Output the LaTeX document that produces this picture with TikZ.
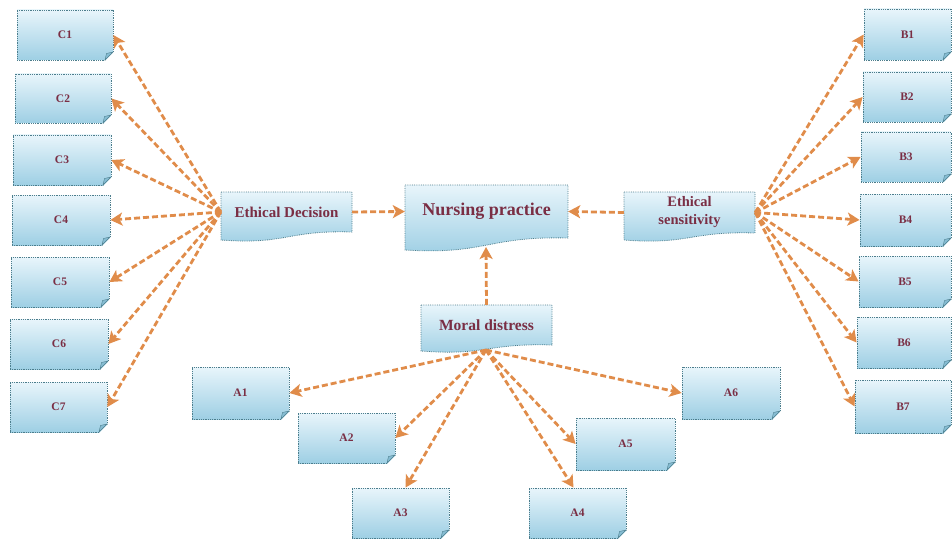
\documentclass[tikz,border=0pt]{standalone}
\usepackage{fontspec}
\setmainfont{Liberation Serif}
\usetikzlibrary{arrows.meta,calc}
\definecolor{boxtop}{HTML}{E8F5FB}
\definecolor{boxbot}{HTML}{9ECFE4}
\definecolor{boxline}{HTML}{4C7D8C}
\definecolor{foldcol}{HTML}{86BDD3}
\definecolor{labcol}{HTML}{7A2E44}
\definecolor{arrcol}{HTML}{E08C4A}
\tikzset{
  smallbox/.style={rectangle, top color=boxtop, bottom color=boxbot, draw=boxline,
    line width=0.8pt, densely dotted, text=labcol, inner sep=0pt,
    font=\bfseries\fontsize{11.5}{13}\selectfont},
  docshape/.style={top color=boxtop, bottom color=boxbot, draw=boxline,
    line width=0.8pt, densely dotted},
  doctext/.style={rectangle, inner sep=0pt, text=labcol, align=center},
  foldstyle/.style={fill=foldcol, draw=boxline, line width=0.4pt},
  conn/.style={draw=arrcol, line width=2.8pt, dash pattern=on 6pt off 3pt,
    -{Stealth[length=12pt,width=13pt,inset=3pt]}}
}
% name, x1, y1, x2, y2, text
\newcommand\smallboxnode[6]{%
  \node[smallbox, minimum width=#4pt-#2pt, minimum height=#5pt-#3pt] (#1)
    at ({(#2+#4)/2},{(#3+#5)/2}) {#6};
  \fill[white] (#4+1,#5-8) -- (#4+1,#5+1) -- (#4-8,#5+1) -- cycle;
  \path[foldstyle] (#4,#5-8) -- (#4-8,#5) -- (#4-6.5,#5-6.5) -- cycle;
}
% name, x1, y1, x2, ybottomleft, ybottomright, font, text
\newcommand\docnode[8]{%
  \path[docshape] (#2,#3) -- (#4,#3) -- (#4,#6)
    .. controls ({(#2+#4)/2},#6-2) and ({(#2+#4)/2},#5+5) .. (#2,#5) -- cycle;
  \node[doctext, font=#7, minimum width=#4pt-#2pt, minimum height=#6pt-#3pt] (#1)
    at ({(#2+#4)/2},{(#3+#6)/2}) {#8};
}
\begin{document}
\begin{tikzpicture}[x=1pt,y=-1pt]
\useasboundingbox (0,0) rectangle (952,540);

% left column C
\smallboxnode{c1}{17}{10}{113}{60}{C1}
\smallboxnode{c2}{15}{74}{111}{123}{C2}
\smallboxnode{c3}{13}{135}{111}{185}{C3}
\smallboxnode{c4}{12}{195}{110}{245}{C4}
\smallboxnode{c5}{11}{257}{109}{307}{C5}
\smallboxnode{c6}{10}{319}{108}{369}{C6}
\smallboxnode{c7}{10}{382}{107}{432}{C7}

% right column B
\smallboxnode{b1}{864}{9}{951}{60}{B1}
\smallboxnode{b2}{863}{72}{951}{122}{B2}
\smallboxnode{b3}{861}{132}{951}{182}{B3}
\smallboxnode{b4}{860}{194}{951}{246}{B4}
\smallboxnode{b5}{859}{256}{951}{307}{B5}
\smallboxnode{b6}{857}{317}{951}{368}{B6}
\smallboxnode{b7}{855}{380}{951}{433}{B7}

% bottom A
\smallboxnode{a1}{192}{367}{289}{419}{A1}
\smallboxnode{a2}{298}{413}{395}{463}{A2}
\smallboxnode{a3}{352}{488}{449}{538}{A3}
\smallboxnode{a4}{529}{488}{626}{538}{A4}
\smallboxnode{a5}{576}{418}{675}{470}{A5}
\smallboxnode{a6}{682}{367}{780}{419}{A6}

% central document shapes
\docnode{ed}{221}{192}{352}{240}{232}{\bfseries\fontsize{15}{18}\selectfont}{Ethical Decision}
\docnode{np}{405}{185}{568}{250}{238}{\bfseries\fontsize{18}{21}\selectfont}{Nursing practice}
\docnode{es}{624}{192}{755}{240}{233}{\bfseries\fontsize{14.5}{18}\selectfont}{Ethical\\sensitivity}
\docnode{md}{421}{305}{552}{351}{345}{\bfseries\fontsize{15.5}{18}\selectfont}{Moral distress}

\coordinate (npb) at (486,247);
\coordinate (mdb) at (486,350);

% connectors
\foreach \t in {c1,c2,c3,c4,c5,c6,c7} \draw[conn] (ed.west) -- (\t.east);
\foreach \t in {b1,b2,b3,b4,b5,b6,b7} \draw[conn] (es.east) -- (\t.west);
\draw[conn] (mdb) -- (a1.east);
\draw[conn] (mdb) -- (a2.east);
\draw[conn] (mdb) -- ($(a3.north)+(5,0)$);
\draw[conn] (mdb) -- ($(a4.north)+(-4,0)$);
\draw[conn] (mdb) -- (a5.west);
\draw[conn] (mdb) -- (a6.west);
\draw[conn] (ed.east) -- (np.west);
\draw[conn] (es.west) -- (np.east);
\draw[conn] (md.north) -- (npb);
\end{tikzpicture}
\end{document}
